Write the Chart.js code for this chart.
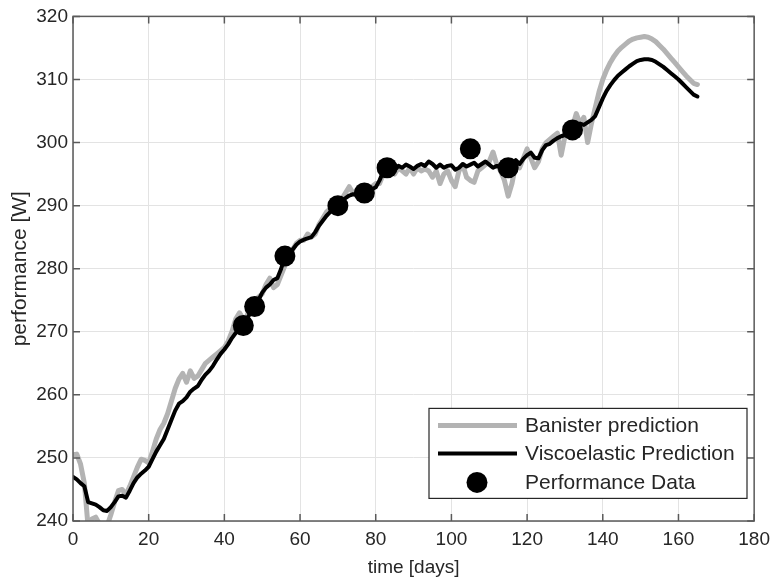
<!DOCTYPE html>
<html>
<head>
<meta charset="utf-8">
<script src="https://cdn.jsdelivr.net/npm/chart.js@4.4.1/dist/chart.umd.min.js"></script>
<style>
  html, body { margin: 0; padding: 0; background: #fff; }
  #wrap { width: 777px; height: 581px; }
</style>
</head>
<body>
<div id="wrap"><canvas id="perf"></canvas></div>
<script>
// time axis (days) shared by both model curves
const days = [
  0, 1, 2, 3, 4, 5, 6, 7, 8, 9, 10, 11, 12, 13, 14, 15, 16, 17, 18, 19,
  20, 21, 22, 23, 24, 25, 26, 27, 28, 29, 30, 31, 32, 33, 34, 35, 36, 37, 38, 39,
  40, 41, 42, 43, 44, 45, 46, 47, 48, 49, 50, 51, 52, 53, 54, 55, 56, 57, 58, 59,
  60, 61, 62, 63, 64, 65, 66, 67, 68, 69, 70, 71, 72, 73, 74, 75, 76, 77, 78, 79,
  80, 81, 82, 83, 84, 85, 86, 87, 88, 89, 90, 91, 92, 93, 94, 95, 96, 97, 98, 99,
  100, 101, 102, 103, 104, 105, 106, 107, 108, 109, 110, 111, 112, 113, 114, 115, 116, 117, 118, 119,
  120, 121, 122, 123, 124, 125, 126, 127, 128, 129, 130, 131, 132, 133, 134, 135, 136, 137, 138, 139,
  140, 141, 142, 143, 144, 145, 146, 147, 148, 149, 150, 151, 152, 153, 154, 155, 156, 157, 158, 159,
  160, 161, 162, 163, 164, 165
]

const banister = [
  250.5, 250.6, 249.0, 246.0, 239.0, 240.3, 240.6, 239.5, 238.5, 239.2,
  241.0, 243.0, 244.8, 245.0, 244.2, 245.5, 247.0, 248.5, 249.8, 249.6,
  249.2, 251.0, 253.0, 254.5, 255.5, 257.0, 259.0, 261.0, 262.5, 263.4,
  262.0, 263.8, 262.6, 263.0, 264.0, 265.0, 265.5, 266.0, 266.5, 267.0,
  267.5, 268.5, 270.0, 272.0, 273.0, 272.0, 272.5, 274.5, 275.0, 275.5,
  276.0, 277.5, 278.5, 277.0, 277.5, 279.0, 280.5, 282.0, 283.0, 284.0,
  284.5, 284.5, 285.5, 285.0, 285.5, 287.0, 288.0, 289.0, 289.5, 289.5,
  290.5, 291.0, 292.0, 293.0, 292.0, 292.0, 293.0, 292.0, 292.5, 293.0,
  293.5, 293.5, 295.0, 295.5, 296.0, 295.0, 296.0, 295.5, 295.0, 296.0,
  295.0, 296.0, 295.5, 295.8, 295.5, 294.5, 295.5, 293.5, 295.0, 295.5,
  294.0, 293.0, 295.5, 296.5, 294.5, 294.0, 293.7, 295.5, 296.0, 296.5,
  297.0, 298.5, 296.5, 295.5, 294.0, 291.5, 293.5, 296.5, 296.0, 297.5,
  299.0, 297.5, 296.0, 297.0, 299.0, 300.0, 300.5, 301.0, 301.5, 298.0,
  301.0, 302.0, 302.5, 304.6, 303.0, 304.0, 300.0, 303.0, 305.5, 308.0,
  310.0, 311.5, 312.7, 313.7, 314.5, 315.1, 315.6, 316.1, 316.4, 316.6,
  316.7, 316.8, 316.7, 316.4, 316.0, 315.4, 314.8, 314.1, 313.4, 312.7,
  312.0, 311.3, 310.6, 310.0, 309.4, 309.2
]

const viscoelastic = [
  247.0, 246.6, 246.0, 245.5, 243.0, 242.8, 242.6, 242.2, 241.7, 241.6,
  242.2, 243.0, 243.9, 244.0, 243.7, 244.8, 246.0, 246.9, 247.5, 248.0,
  248.6, 249.8, 251.0, 252.0, 253.0, 254.5, 256.0, 257.5, 258.6, 259.0,
  259.6, 260.5, 261.0, 261.4, 262.4, 263.2, 263.8, 264.6, 265.6, 266.5,
  267.2, 268.0, 269.0, 269.8, 270.6, 271.0, 272.0, 273.2, 274.0, 275.0,
  276.2, 277.0, 277.5, 278.2, 278.5, 280.0, 282.0, 282.6, 283.0, 283.8,
  284.3, 284.6, 284.8, 285.0, 285.8, 286.8, 287.6, 288.4, 289.0, 289.6,
  290.0, 290.6, 291.2, 291.6, 291.8, 291.7, 291.6, 292.0, 292.3, 292.6,
  292.9, 294.0, 295.4, 295.8, 296.0, 295.6, 296.3, 296.0, 296.5, 296.2,
  295.8, 296.3, 296.6, 296.3, 297.0, 296.6, 296.0, 296.5, 296.0, 296.3,
  296.4, 295.7, 296.0, 296.6, 296.2, 296.5, 296.8, 296.2, 296.6, 297.0,
  296.5, 296.0, 296.3, 296.0, 295.8, 296.0, 296.6, 297.2, 296.6, 297.4,
  298.0, 298.4, 297.6, 297.5, 298.8, 299.6, 299.8, 300.3, 300.7, 301.0,
  301.2, 301.5, 302.0, 302.5, 303.0, 302.8, 303.2, 303.6, 304.2, 305.6,
  307.0, 308.2, 309.1, 309.9, 310.6, 311.1, 311.6, 312.1, 312.5, 312.9,
  313.1, 313.2, 313.2, 313.1, 312.8, 312.4, 312.0, 311.5, 311.0, 310.5,
  310.0, 309.4, 308.8, 308.2, 307.6, 307.3
]

// measured performance tests
const testDays = [45, 48, 56, 70, 77, 83, 105, 115, 132]
const testPower = [271, 274, 282, 290, 292, 296, 299, 296, 302]

const xTicks = [0, 20, 40, 60, 80, 100, 120, 140, 160, 180]
const yTicks = [240, 250, 260, 270, 280, 290, 300, 310, 320]

const seriesNames = ["Banister prediction", "Viscoelastic Prediction", "Performance Data"]

const FONT = "'Liberation Sans', Arial, Helvetica, sans-serif"
const INK = "#262626"

var toPoints = (xs, ys) => xs.map((x, i) => { return { x: x, y: ys[i] } })

// MATLAB style: box round the axes, ticks pointing inwards, legend inside
var matlabBox = {
    id: 'matlabBox',
    afterDraw(chart) {
        var ctx = chart.ctx
        var a = chart.chartArea
        var sx = chart.scales.x
        var sy = chart.scales.y
        ctx.save()
        ctx.strokeStyle = "#5a5a5a"
        ctx.lineWidth = 1.5
        ctx.strokeRect(a.left, a.top, a.right - a.left, a.bottom - a.top)

        ctx.beginPath()
        xTicks.forEach(t => {
            var px = sx.getPixelForValue(t)
            ctx.moveTo(px, a.bottom); ctx.lineTo(px, a.bottom - 7)
            ctx.moveTo(px, a.top); ctx.lineTo(px, a.top + 7)
        })
        yTicks.forEach(t => {
            var py = sy.getPixelForValue(t)
            ctx.moveTo(a.left, py); ctx.lineTo(a.left + 7, py)
            ctx.moveTo(a.right, py); ctx.lineTo(a.right - 7, py)
        })
        ctx.stroke()

        // legend
        var lx = a.left + 356, ly = a.top + 392, lw = 318, lh = 90
        ctx.fillStyle = "#fff"
        ctx.fillRect(lx, ly, lw, lh)
        ctx.strokeStyle = INK
        ctx.lineWidth = 1.2
        ctx.strokeRect(lx, ly, lw, lh)

        var ds = chart.data.datasets
        var rows = [ly + 17, ly + 45, ly + 74]
        ctx.font = "21px " + FONT
        ctx.textBaseline = "middle"
        ctx.textAlign = "left"
        ds.forEach((d, i) => {
            var y = rows[i]
            if (d.showLine === false) {
                ctx.fillStyle = d.pointBackgroundColor
                ctx.beginPath()
                ctx.arc(lx + 48, y, 10.5, 0, Math.PI * 2)
                ctx.fill()
            } else {
                ctx.strokeStyle = d.borderColor
                ctx.lineWidth = d.borderWidth
                ctx.beginPath()
                ctx.moveTo(lx + 9, y)
                ctx.lineTo(lx + 88, y)
                ctx.stroke()
            }
            ctx.fillStyle = INK
            ctx.fillText(d.label, lx + 96, y + 1)
        })
        ctx.restore()
    }
}

new Chart(document.querySelector("canvas#perf"), {
    type: 'line',
    data: {
        datasets: [{
            label: seriesNames[0],
            data: toPoints(days, banister),
            borderColor: "#b3b3b3",
            borderWidth: 5,
            borderJoinStyle: 'round',
            borderCapStyle: 'round',
            pointRadius: 0,
            tension: 0,
            order: 3
        },
        {
            label: seriesNames[1],
            data: toPoints(days, viscoelastic),
            borderColor: "#000000",
            borderWidth: 4,
            borderJoinStyle: 'round',
            borderCapStyle: 'round',
            pointRadius: 0,
            tension: 0,
            order: 2
        },
        {
            label: seriesNames[2],
            data: toPoints(testDays, testPower),
            showLine: false,
            pointRadius: 10.5,
            pointBackgroundColor: "#000000",
            pointBorderColor: "#000000",
            pointBorderWidth: 0,
            order: 1
        }]
    },
    options: {
        responsive: true,
        maintainAspectRatio: false,
        animation: false,
        events: [],
        layout: {
            padding: { top: 12, right: 14, left: 0, bottom: 0 }
        },
        plugins: {
            legend: { display: false },
            tooltip: { enabled: false }
        },
        scales: {
            x: {
                type: 'linear',
                min: 0,
                max: 180,
                afterFit: s => { s.height = 60 },
                afterBuildTicks: s => { s.ticks = xTicks.map(v => ({ value: v })) },
                grid: { color: "#e3e3e3", lineWidth: 1, drawTicks: false },
                border: { display: false },
                ticks: { color: INK, font: { family: FONT, size: 19 }, padding: 7, maxRotation: 0 },
                title: {
                    display: true,
                    text: "time [days]",
                    color: INK,
                    font: { family: FONT, size: 19 },
                    padding: { top: 0, bottom: 2 }
                }
            },
            y: {
                min: 240,
                max: 320,
                afterFit: s => { s.width = 73 },
                afterBuildTicks: s => { s.ticks = yTicks.map(v => ({ value: v })) },
                grid: { color: "#e3e3e3", lineWidth: 1, drawTicks: false },
                border: { display: false },
                ticks: { color: INK, font: { family: FONT, size: 19 }, padding: 5 },
                title: {
                    display: true,
                    text: "performance [W]",
                    color: INK,
                    font: { family: FONT, size: 21 },
                    padding: { top: 8, bottom: 0 }
                }
            }
        }
    },
    plugins: [matlabBox]
});
</script>
</body>
</html>
